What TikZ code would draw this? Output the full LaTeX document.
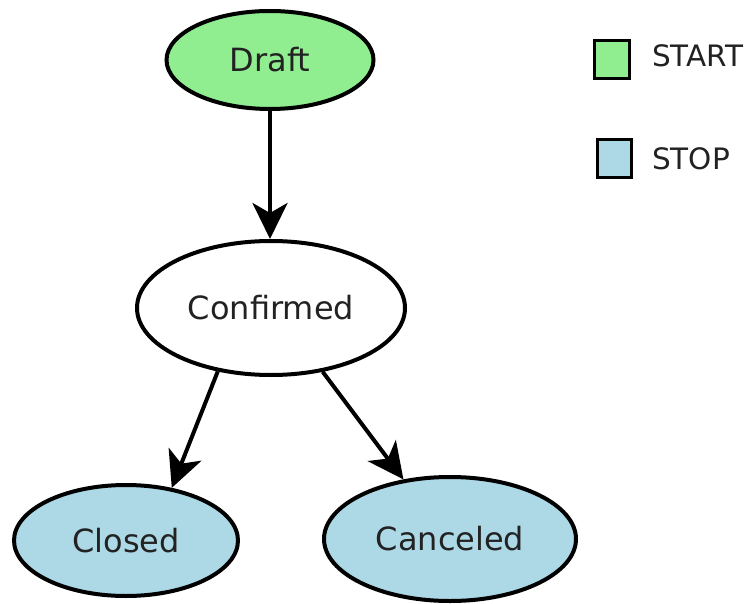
\documentclass[tikz,border=0pt]{standalone}
\usepackage{fontspec}
\setmainfont{DejaVu Sans}
\usetikzlibrary{shapes.geometric,arrows.meta}
\definecolor{startgreen}{HTML}{90EE90}
\definecolor{stopblue}{HTML}{ADD8E6}
\definecolor{txt}{HTML}{222222}
\tikzset{
  state/.style={ellipse, draw=black, line width=4pt, inner sep=0pt, text=txt,
    font=\fontsize{32}{37}\selectfont},
  edge/.style={line width=4pt, -{Stealth[length=36pt,width=35pt,inset=10pt]}},
  legbox/.style={draw=black, line width=3pt, inner sep=0pt},
  legtext/.style={anchor=base west, inner sep=0pt, text=txt, font=\fontsize{29.5}{34}\selectfont}
}
\begin{document}
\begin{tikzpicture}[x=1pt,y=-1pt]
\useasboundingbox (0,0) rectangle (752,604);
\node[state, fill=startgreen, minimum width=207pt, minimum height=98pt] (draft) at (270,60) {Draft};
\node[state, fill=white, minimum width=268pt, minimum height=134pt] (conf) at (271,308) {Confirmed};
\node[state, fill=stopblue, minimum width=224pt, minimum height=111pt] (closed) at (126,540.5) {Closed};
\node[state, fill=stopblue, minimum width=252pt, minimum height=124pt] (canc) at (450,539) {Canceled};
\draw[edge] (draft.south) -- (draft.south |- conf.north);
\draw[edge] (conf.230) -- (closed.49);
\draw[edge] (conf.309) -- (canc.128);
\node[legbox, fill=startgreen, minimum width=35pt, minimum height=38pt] (lg) at (611.5,59.5) {};
\node[legbox, fill=stopblue, minimum width=34pt, minimum height=38pt] (lb) at (614,158.5) {};
\node[legtext] (ls) at (652,67) {START};
\node[legtext] (lt) at (652,170) {STOP};
\end{tikzpicture}
\end{document}
